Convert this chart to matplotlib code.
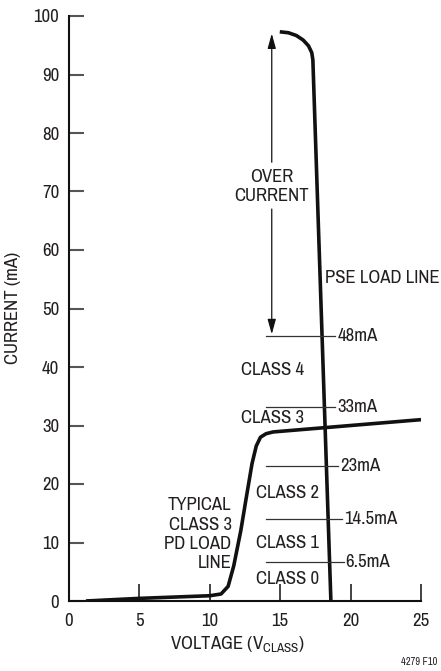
import numpy as np
import matplotlib
matplotlib.use("Agg")
import matplotlib.pyplot as plt
from matplotlib import font_manager

# a narrow sans if one is installed, else Arial-like Liberation Sans
fam = 'Liberation Sans'
stretch = 'normal'
fs = 11
for f in font_manager.fontManager.ttflist:
    if 'Narrow' in f.name or 'Condensed' in f.name:
        fam, fs = f.name, 13.5
        break
    if f.name in ('Noto Sans', 'Open Sans', 'Roboto') and f.stretch in ('condensed', 'semi-condensed', 'extra-condensed') and f.weight in (400, 'normal', 'regular'):
        fam, stretch, fs = f.name, f.stretch, 13.5
        break
plt.rcParams['font.family'] = [fam, 'DejaVu Sans']
plt.rcParams['font.stretch'] = stretch

# PSE load line (V, mA)
pse_v = [14.97, 15.58, 16.15, 16.63, 17.01, 17.24, 17.32, 18.6]
pse_i = [97.3, 97.14, 96.66, 95.89, 94.9, 93.74, 92.5, 0.0]

# typical class 3 PD load line
pd_v = [1.2, 5.0, 10.0, 10.8, 11.3, 11.7, 12.2, 12.6, 13.0, 13.3, 13.6, 14.0, 14.5, 25.0]
pd_i = [0.0, 0.45, 0.9, 1.2, 2.5, 6.0, 12.0, 17.8, 23.5, 26.5, 28.0, 28.6, 28.9, 31.0]

# class boundary markers
lvl_names = ['48mA', '33mA', '23mA', '14.5mA', '6.5mA']
lvl_y = [45.3, 33.2, 23.1, 14.1, 6.6]
lvl_x_end = [18.9, 18.9, 19.1, 19.4, 19.5]

class_names = ['CLASS 4', 'CLASS 3', 'CLASS 2', 'CLASS 1', 'CLASS 0']
class_x = [12.2, 12.2, 13.3, 13.3, 13.3]
class_y = [39.5, 31.2, 18.4, 10.0, 3.7]

col = '#231f20'

fig = plt.figure(figsize=(4.41, 6.71), dpi=100)
ax = fig.add_axes([69/441, 70/671, 352/441, 585/671])

ax.plot(pse_v, pse_i, color='#111111', lw=2.6, solid_capstyle='butt')
ax.plot(pd_v, pd_i, color='#111111', lw=2.6, solid_capstyle='butt')

for name, y, xe in zip(lvl_names, lvl_y, lvl_x_end):
    ax.plot([14.0, xe], [y, y], color='#333333', lw=0.9)
    ax.text(xe + 0.15, y, name, fontsize=fs, color=col, va='center', ha='left')

for name, x, y in zip(class_names, class_x, class_y):
    ax.text(x, y, name, fontsize=fs, color=col, va='center', ha='left')

# over current arrow
arr = dict(arrowstyle='-|>,head_length=0.9,head_width=0.25', color='#111111', lw=0.9,
           shrinkA=0, shrinkB=0)
ax.annotate('', xy=(14.4, 97.0), xytext=(14.4, 75.0), arrowprops=arr)
ax.annotate('', xy=(14.4, 45.6), xytext=(14.4, 67.0), arrowprops=arr)
ax.text(14.4, 70.9, 'OVER\nCURRENT', fontsize=fs, color=col, ha='center', va='center',
        linespacing=1.2)

ax.text(18.15, 55.2, 'PSE LOAD LINE', fontsize=fs, color=col, va='center', ha='left')
ax.text(11.55, 11.4, 'TYPICAL\nCLASS 3\nPD LOAD\nLINE', fontsize=fs, color=col,
        ha='right', va='center', linespacing=1.25)

ax.set_xlim(0, 25)
ax.set_ylim(0, 100)
ax.set_xticks(np.arange(0, 26, 5))
ax.set_yticks(np.arange(0, 101, 10))
ax.spines['top'].set_visible(False)
ax.spines['right'].set_visible(False)
for s in ['left', 'bottom']:
    ax.spines[s].set_linewidth(1.5)
    ax.spines[s].set_color('#111111')
ax.tick_params(axis='y', direction='in', length=11, width=1.5, color='#555555',
               labelsize=fs, labelcolor=col, pad=7)
ax.tick_params(axis='x', direction='in', length=12, width=1.2, color='#222222',
               labelsize=fs, labelcolor=col, pad=9)

fig.text(13/441, 1 - 308/671, 'CURRENT (mA)', rotation=90, fontsize=fs, color=col,
         ha='center', va='center')
fig.text(237/441, 1 - 645/671, r'VOLTAGE (V$_{\mathregular{CLASS}}$)', fontsize=fs,
         color=col, ha='center', va='center')
fig.text(437/441, 1 - 662/671, '4279 F10', fontsize=7.5, color=col, ha='right', va='center')

fig.savefig('out.png', dpi=100)
